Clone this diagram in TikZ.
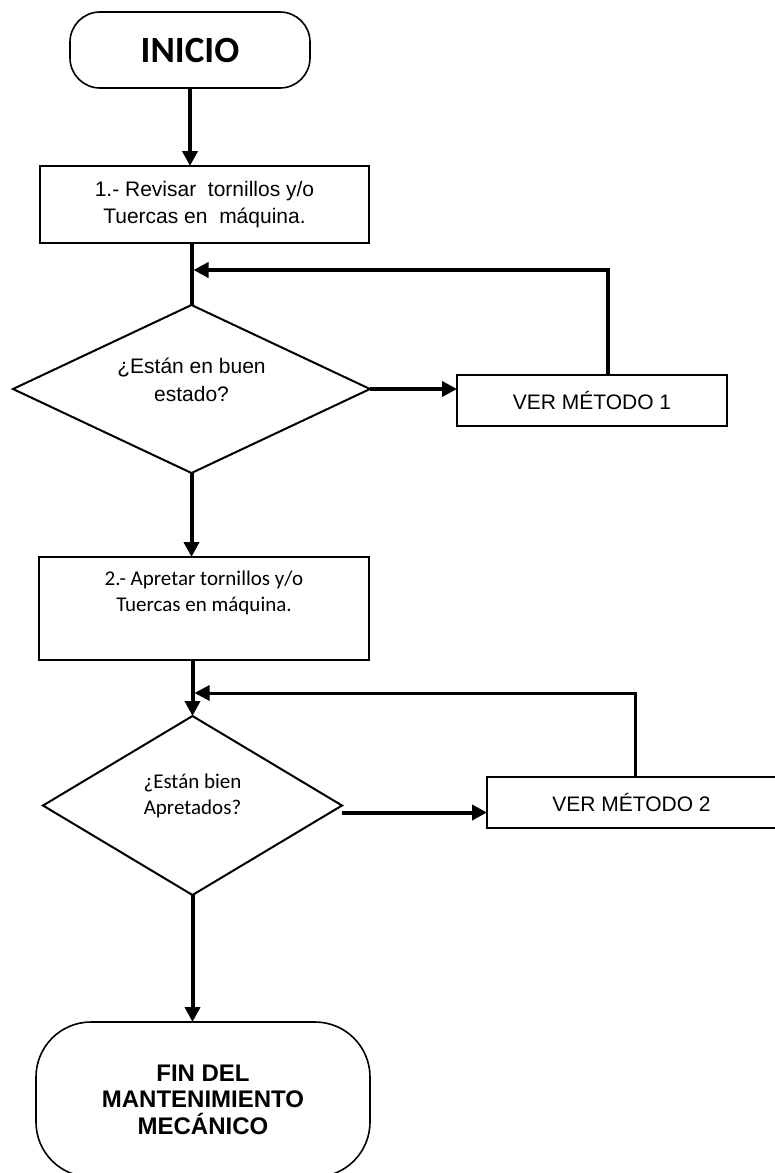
\documentclass[tikz,border=0pt]{standalone}
\usepackage{fontspec}
\setmainfont{Liberation Sans}
\newfontfamily\calfont{Carlito}
\usetikzlibrary{shapes.geometric,arrows.meta}

\begin{document}
\begin{tikzpicture}[x=1pt,y=-1pt,
  box/.style={draw=black,line width=2pt,rectangle,inner sep=0pt,outer sep=0pt,align=center},
  terminal/.style={draw=black,line width=1.6pt,rectangle,inner sep=0pt,outer sep=0pt,align=center},
  decision/.style={draw=black,line width=2pt,diamond,aspect=2.1,inner sep=0pt,outer sep=0pt},
  conn/.style={line width=4pt},
  arr/.style={conn,-{Triangle[length=15pt,width=15pt]}},
  txt/.style={font=\fontsize{21}{27}\selectfont}
]
\fill[white] (0,0) rectangle (774,1173);
\useasboundingbox (0,0) rectangle (774,1173);

% start terminal
\node[terminal,rounded corners=30pt,minimum width=240pt,minimum height=76pt,
      font=\calfont\bfseries\fontsize{37}{40}\selectfont] (ini) at (190,50) {\raisebox{-3pt}{INICIO}};

% step 1
\node[box,txt,minimum width=329pt,minimum height=77pt] (b1) at (204.5,204.5)
  {1.- Revisar\ \ tornillos y/o\\Tuercas en\ \ máquina.};

% first decision
\node[decision,minimum width=357pt,minimum height=168pt,
      label={[font=\fontsize{21}{28}\selectfont,align=center,yshift=9pt]center:{¿Están en buen\\estado?}}] (d1) at (191.5,389) {};

\node[box,txt,minimum width=270pt,minimum height=51pt] (v1) at (592,400.5) {VER MÉTODO 1};

% step 2
\node[box,minimum width=330pt,minimum height=103pt,font=\calfont\fontsize{21}{26}\selectfont] (b2) at (204,608.5)
  {2.- Apretar tornillos y/o\\Tuercas en máquina.\\\strut};

% second decision
\node[decision,minimum width=299pt,minimum height=179pt,
      label={[font=\calfont\fontsize{21}{26}\selectfont,align=center,yshift=10pt]center:{¿Están bien\\Apretados?}}] (d2) at (192.5,805.5) {};

\node[box,txt,minimum width=289pt,minimum height=51pt] (v2) at (631.5,802.5) {VER MÉTODO 2};

% end terminal
\node[terminal,rounded corners=55pt,minimum width=334pt,minimum height=155pt,
      font=\bfseries\fontsize{24}{26.5}\selectfont] (fin) at (203,1099.5)
  {FIN DEL\\MANTENIMIENTO\\MECÁNICO};

% loop-back corners
\coordinate (fb1) at (608,270);
\coordinate (fb2) at (635,693);

% connectors
\draw[arr] (ini.south) -- (ini.south |- b1.north);
\draw[conn] (b1.south -| d1.north) -- (d1.north);
\draw[arr] (d1.east) -- (d1.east -| v1.west);
\draw[conn,-{Triangle[length=15pt,width=15pt]}] (v1.north -| fb1) -- (fb1) -- ([xshift=2pt]fb1 -| d1.north);
\draw[arr] (d1.south) -- (d1.south |- b2.north);
\draw[arr] (b2.south -| d2.north) -- (d2.north);
\draw[conn,line width=3pt,-{Triangle[length=15pt,width=15pt]}] (v2.north -| fb2) -- (fb2) -- ([xshift=2pt]fb2 -| d2.north);
\draw[arr] ([yshift=-7pt]d2.east) -- ([yshift=-7pt]d2.east -| v2.west);
\draw[arr] (d2.south) -- (d2.south |- fin.north);
\end{tikzpicture}
\end{document}
